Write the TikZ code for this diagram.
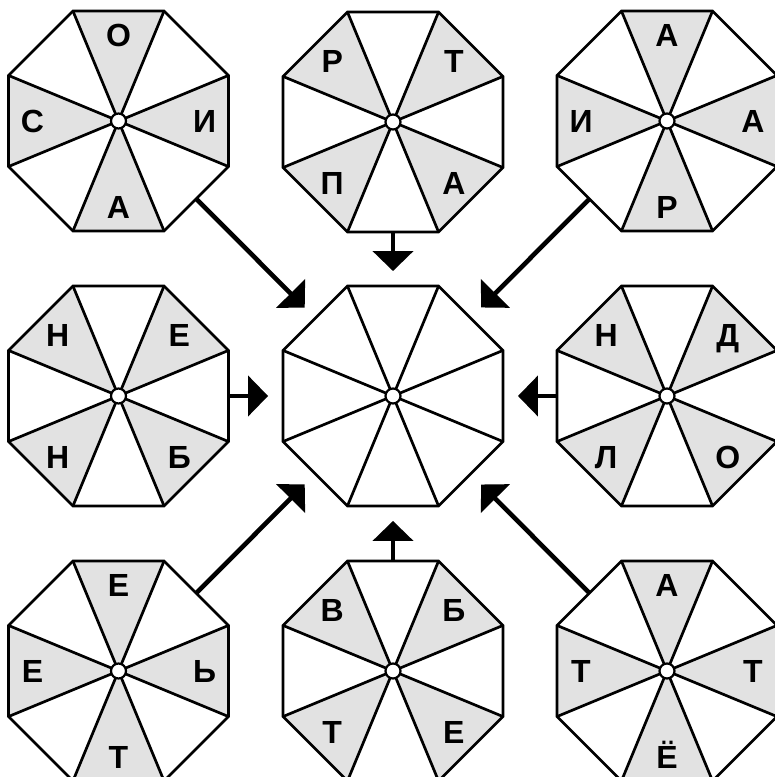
\documentclass[tikz,border=0pt]{standalone}
\usepackage{fontspec}
\setmainfont{Liberation Sans}
\usetikzlibrary{arrows.meta,positioning,calc,shapes.geometric}
\definecolor{wedgegray}{RGB}{226,226,226}

\begin{document}
\begin{tikzpicture}[
    x=1pt, y=1pt,
    octa/.style={regular polygon, regular polygon sides=8, minimum size=238pt, inner sep=0pt, outer sep=0pt},
    rim/.style={line width=2.7pt, line join=miter},
    hub/.style={circle, draw, fill=white, line width=2.2pt, minimum size=15pt, inner sep=0pt},
    letter/.style={font=\fontsize{32}{32}\selectfont\bfseries, text height=23pt, text depth=0pt, inner sep=0pt},
    feed/.style={-{Triangle[length=20pt,width=40pt]}, line width=4.6pt, shorten >=15pt},
  ]
  \useasboundingbox (0,0) rectangle (775,777);
  \clip (0,0) rectangle (775,777);

  % outer octagons: name/x/y/turn of shaded wedges/letters (clockwise)
  \foreach \n/\x/\y/\s/\a/\b/\c/\d in {
      nw/118.5/656/0/О/И/А/С,
      n/393/655/45/Р/Т/А/П,
      ne/667/656/0/А/А/Р/И,
      w/118.5/381/45/Н/Е/Б/Н,
      e/667/381/45/Н/Д/О/Л,
      sw/118.5/106/0/Е/Ь/Т/Е,
      s/393/106/45/В/Б/Е/Т,
      se/667/106/0/А/Т/Ё/Т} {
    \node[octa] (\n) at (\x,\y) {};
    \foreach \w/\l [count=\k] in {90/\a, 0/\b, -90/\c, -180/\d} {
      \fill[wedgegray] (\n.center) -- +(\s+\w+22.5:119) -- +(\s+\w-22.5:119) -- cycle;
      \node[letter] (\n\k) at ($(\n.center)+(\s+\w:86)$) {\l};
    }
  }
  \node[octa] (c) at (393,381) {};

  % rims, spokes and hubs
  \foreach \n in {nw,n,ne,w,c,e,sw,s,se} {
    \foreach \k in {1,...,8}
      \draw[rim] (\n.center) -- (\n.corner \k);
    \draw[rim] (\n.corner 1) \foreach \k in {2,...,8} {-- (\n.corner \k)} -- cycle;
    \node[hub] (\n hub) at (\n) {};
  }

  % arrows into the middle
  \foreach \n in {nw,n,ne,w,e,sw,s,se}
    \draw[feed] (\n) -- (c);
\end{tikzpicture}
\end{document}
